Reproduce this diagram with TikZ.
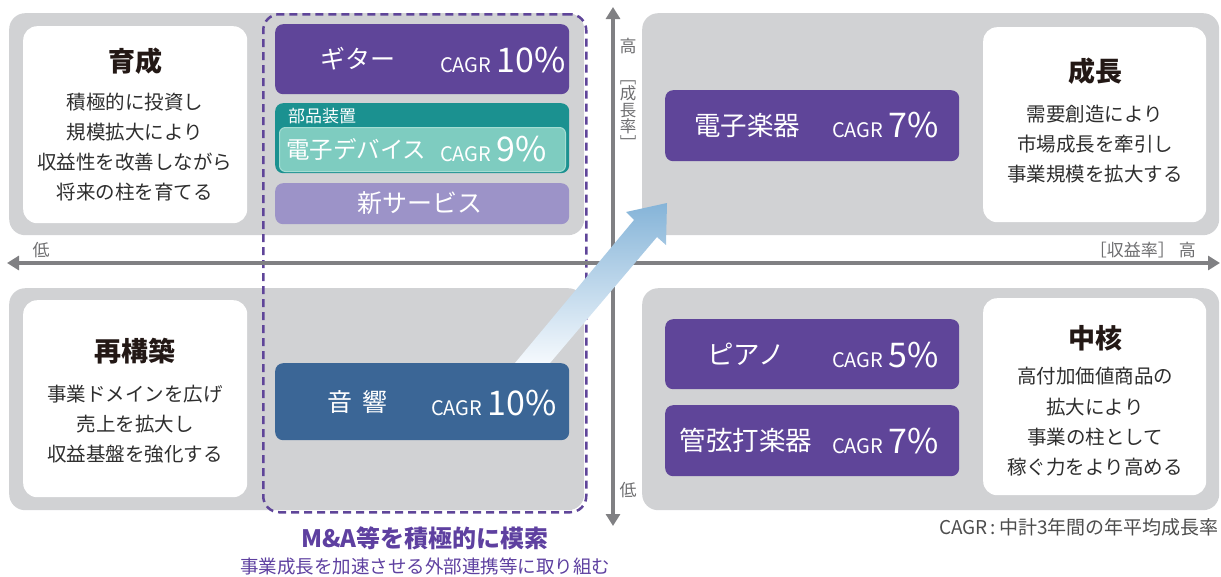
\documentclass[tikz,border=0pt]{standalone}
\usepackage{fontspec}
\usepackage{graphicx}
\setmainfont{Noto Sans CJK JP}
\usetikzlibrary{arrows.meta}
\definecolor{qgray}{HTML}{D1D2D4}
\definecolor{axgray}{HTML}{808083}
\definecolor{pur}{HTML}{5F4599}
\definecolor{lpur}{HTML}{9C93C8}
\definecolor{tealD}{HTML}{1B9190}
\definecolor{tealL}{HTML}{7ECCC0}
\definecolor{tealB}{HTML}{A5DDD3}
\definecolor{blu}{HTML}{3B6696}
\definecolor{txt}{HTML}{2E2E2E}
\definecolor{ttl}{HTML}{231815}
\definecolor{lbl}{HTML}{6E6E70}
\definecolor{mapur}{HTML}{5E40A0}
\definecolor{arTop}{HTML}{85B4D8}
\definecolor{arMid}{HTML}{95BEDE}
\definecolor{arBot}{HTML}{F5F9FD}
\newcommand{\fs}[2]{\fontsize{#1}{#2}\selectfont}
\begin{document}
\begin{tikzpicture}[x=1pt,y=-1pt,
  quad/.style={fill=qgray, draw=none, rounded corners=16pt, anchor=north west, inner sep=0pt},
  wbox/.style={fill=white, draw=none, rounded corners=14pt, anchor=north west, inner sep=0pt},
  cbox/.style={draw=none, rounded corners=8pt, anchor=north west, inner sep=0pt},
  ttlt/.style={text=ttl, font=\bfseries\fs{27}{30}, inner sep=0pt},
  bodyt/.style={text=txt, font=\fs{19.5}{30.3}, align=center, inner sep=0pt},
  namet/.style={text=white, font=\fs{25}{28}, inner sep=0pt},
  cagrt/.style={text=white, inner sep=0pt, anchor=base west},
  axl/.style={text=lbl, font=\fs{17}{18}, inner sep=0pt},
  axis/.style={draw=axgray, line width=4pt, {Triangle[width=14pt,length=12pt]}-{Triangle[width=14pt,length=12pt]}}
]
\useasboundingbox (0,0) rectangle (1221,576);
\newcommand{\cagr}[1]{{\fs{20}{22}CAGR}\hspace{5pt}{\fs{34}{36}#1}}

% quadrants
\node[quad, minimum width=575pt, minimum height=222pt] (qTL) at (9,13) {};
\node[quad, minimum width=577pt, minimum height=222pt] (qTR) at (642,13) {};
\node[quad, minimum width=575pt, minimum height=222pt] (qBL) at (9,288) {};
\node[quad, minimum width=577pt, minimum height=222pt] (qBR) at (642,288) {};

% white boxes
\node[wbox, minimum width=224pt, minimum height=197pt] (wTL) at (23,26) {};
\node[wbox, minimum width=224pt, minimum height=197pt] (wBL) at (23,300) {};
\node[wbox, minimum width=223pt, minimum height=195pt] (wTR) at (983,27) {};
\node[wbox, minimum width=223pt, minimum height=197pt] (wBR) at (983,298) {};

% white box texts
\node[ttlt] (tTL) at (135,61) {育成};
\node[bodyt] (bTL) at (135,147) {積極的に投資し\\規模拡大により\\収益性を改善しながら\\将来の柱を育てる};
\node[ttlt] (tTR) at (1095,71) {成長};
\node[bodyt] (bTR) at (1095,144) {需要創造により\\市場成長を牽引し\\事業規模を拡大する};
\node[ttlt] (tBL) at (135,351) {再構築};
\node[bodyt] (bBL) at (135,424) {事業ドメインを広げ\\売上を拡大し\\収益基盤を強化する};
\node[ttlt] (tBR) at (1095,338) {中核};
\node[bodyt] (bBR) at (1095,422) {高付加価値商品の\\拡大により\\事業の柱として\\稼ぐ力をより高める};

% dashed M&A frame
\node[draw=pur, line width=2.5pt, dash pattern=on 8pt off 5pt, rounded corners=16pt, anchor=north west, inner sep=0pt, minimum width=323pt, minimum height=498pt] (dash) at (262,13) {};

% axes
\coordinate (hL) at (7,263);
\coordinate (hR) at (1220,263);
\coordinate (vT) at (613,7);
\coordinate (vB) at (613,526);
\draw[axis] (hL) -- (hR);
\draw[axis] (vT) -- (vB);

% axis labels
\node[axl] (lowH) at (41,250) {低};
\node[axl, anchor=east] (highH) at (1196,250) {［収益率］\hspace{4pt}高};
\node[axl] (highV) at (628,46) {高};
\node[axl, align=center, font=\fs{16.5}{16.5}] (rateV) at (628,115) {﹇\\成\\長\\率\\﹈};
\node[axl] (lowV) at (628,490) {低};

% big arrow
\shade[shading angle=-40, top color=arTop, middle color=arMid, bottom color=arBot]
  (515,363) -- (634,220) -- (626,212) -- (667,203) -- (666,245) -- (657,237) -- (550,363) -- cycle;

% coloured boxes
\node[cbox, fill=pur, minimum width=294pt, minimum height=70pt] (gtr) at (275,24) {};
\node[cbox, fill=tealD, minimum width=294pt, minimum height=70pt] (buh) at (275,103) {};
\node[cbox, fill=tealL, draw=tealB, line width=1pt, rounded corners=6pt, minimum width=286pt, minimum height=44pt] (den) at (279,127) {};
\node[cbox, fill=lpur, minimum width=294pt, minimum height=41pt] (svc) at (275,183) {};
\node[cbox, fill=blu, minimum width=294pt, minimum height=77pt] (onk) at (275,363) {};
\node[cbox, fill=pur, minimum width=294pt, minimum height=71pt] (egk) at (665,90) {};
\node[cbox, fill=pur, minimum width=294pt, minimum height=70pt] (pia) at (665,319) {};
\node[cbox, fill=pur, minimum width=294pt, minimum height=71pt] (kan) at (665,405) {};

% box texts
\node[namet] (nGtr) at (358,59) {ギター};
\node[cagrt] (cGtr) at (440,72) {\cagr{10\%}};
\node[text=white, font=\fs{17}{18}, inner sep=0pt, anchor=west] (nBuh) at (288,116) {部品装置};
\node[namet, font=\fs{23.5}{26}, anchor=west] (nDen) at (286,149) {電子デバイス};
\node[cagrt] (cDen) at (440,161) {\cagr{9\%}};
\node[namet] (nSvc) at (420,203) {新サービス};
\node[namet] (nOnk) at (357,402) {音\hspace{10pt}響};
\node[cagrt] (cOnk) at (431,415) {\cagr{10\%}};
\node[namet, font=\fs{26.5}{28}] (nEgk) at (747,125) {電子楽器};
\node[cagrt] (cEgk) at (832,137) {\cagr{7\%}};
\node[namet, font=\fs{26.5}{28}] (nPia) at (746,354) {ピアノ};
\node[cagrt] (cPia) at (832,367) {\cagr{5\%}};
\node[namet, font=\fs{26.5}{28}] (nKan) at (746,440) {管弦打楽器};
\node[cagrt] (cKan) at (832,453) {\cagr{7\%}};

% bottom texts
\node[text=mapur, font=\bfseries\fs{24}{26}, inner sep=0pt] (ma) at (425,538) {M\&A等を積極的に模索};
\node[text=mapur, font=\fs{18.5}{20}, inner sep=0pt] (maSub) at (425,566) {事業成長を加速させる外部連携等に取り組む};
\node[text=txt!85, font=\fs{19}{20}, inner sep=0pt, anchor=east] (note) at (1219,527) {CAGR\,:\,中計3年間の年平均成長率};
\end{tikzpicture}
\end{document}
